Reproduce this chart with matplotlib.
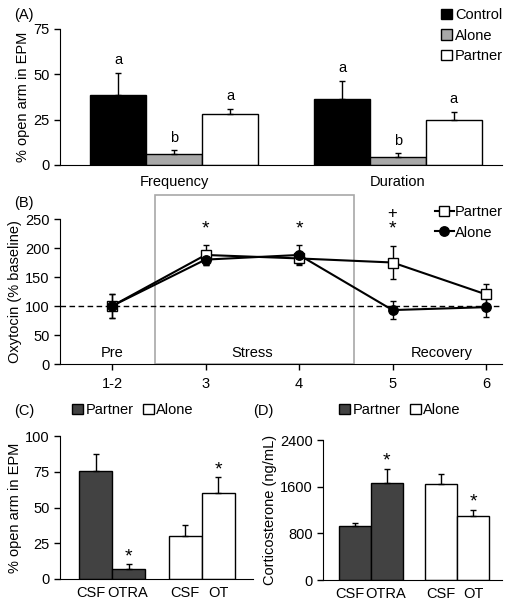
import matplotlib.pyplot as plt
from matplotlib.patches import Patch, Rectangle
from matplotlib.lines import Line2D

plt.rcParams['font.family'] = ['Liberation Sans', 'DejaVu Sans']
plt.rcParams['font.size'] = 10.5

# ---- data ----
# (A) % open arm in EPM
a_groups = ['Frequency', 'Duration']
a_series = ['Control', 'Alone', 'Partner']
a_values = {'Control': [38.5, 36.5], 'Alone': [6, 4.5], 'Partner': [28, 25]}
a_errors = {'Control': [12.5, 10], 'Alone': [2, 2], 'Partner': [3, 4.5]}
a_letters = {'Control': ['a', 'a'], 'Alone': ['b', 'b'], 'Partner': ['a', 'a']}

# (B) oxytocin time course
b_ticks = ['1-2', '3', '4', '5', '6']
b_partner = [100, 188, 182, 175, 120]
b_partner_err = [20, 18, 10, 28, 18]
b_alone = [100, 180, 188, 93, 98]
b_alone_err = [20, 10, 17, 15, 17]

# (C) % open arm, (D) corticosterone
cd_labels = ['CSF', 'OTRA', 'CSF', 'OT']
c_values = [75.5, 7.2, 30, 60]
c_errors = [12, 3, 8, 11.5]
d_values = [920, 1655, 1650, 1100]
d_errors = [55, 250, 160, 105]
cd_sig = [False, True, False, True]

col_control = '#000000'
col_alone_a = '#a8a8a8'
col_dark = '#424242'

fig = plt.figure(figsize=(5.12, 6.06), dpi=100)
W, H = 512, 606


def add_ax(l, t, r, b):
    ax = fig.add_axes([l / W, 1 - b / H, (r - l) / W, (b - t) / H])
    ax.spines['top'].set_visible(False)
    ax.spines['right'].set_visible(False)
    ax.tick_params(direction='out', length=4, width=1)
    return ax


# ---- (A) ----
axA = add_ax(60, 29, 502, 165)
a_colors = {'Control': col_control, 'Alone': col_alone_a, 'Partner': 'white'}
centers = [0, 4]
for i, s in enumerate(a_series):
    xs = [c + i - 1 for c in centers]
    axA.bar(xs, a_values[s], width=1, color=a_colors[s], edgecolor='black', linewidth=1)
    axA.errorbar(xs, a_values[s], yerr=[[0, 0], a_errors[s]], fmt='none',
                 ecolor='black', elinewidth=1, capsize=2.5, capthick=1)
    for x, v, e, t in zip(xs, a_values[s], a_errors[s], a_letters[s]):
        axA.text(x, v + e + 7, t, ha='center', va='center')
axA.set_xlim(-2.04, 5.86)
axA.set_ylim(0, 75)
axA.set_yticks([0, 25, 50, 75])
axA.set_xticks(centers)
axA.set_xticklabels(a_groups)
axA.tick_params(axis='x', length=0, pad=7)
axA.set_ylabel('% open arm in EPM', labelpad=2)
fig.legend(handles=[Patch(facecolor=a_colors[s], edgecolor='black', label=s) for s in a_series],
           loc='upper right', bbox_to_anchor=(503 / W, 1 - 8 / H), frameon=False,
           handlelength=0.75, handleheight=0.75, handletextpad=0.2, labelspacing=0.45,
           borderaxespad=0, borderpad=0)
fig.text(14 / W, 1 - 15 / H, '(A)', ha='left', va='center')

# ---- (B) ----
axB = add_ax(60, 219, 502, 364)
xb = list(range(len(b_ticks)))
axB.add_patch(Rectangle((0.46, 0), 2.13, 292, fill=False, edgecolor='#a8a8a8',
                        linewidth=1.2, clip_on=False, zorder=0))
axB.axhline(100, color='black', linestyle=(0, (4, 2.5)), linewidth=1, zorder=1)
axB.errorbar(xb, b_partner, yerr=b_partner_err, fmt='none', ecolor='black',
             elinewidth=1, capsize=2.5, capthick=1, zorder=2)
axB.errorbar(xb, b_alone, yerr=b_alone_err, fmt='none', ecolor='black',
             elinewidth=1, capsize=2.5, capthick=1, zorder=2)
axB.plot(xb, b_partner, color='black', linewidth=1.5, marker='s', markersize=6.8,
         markerfacecolor='white', markeredgecolor='black', markeredgewidth=1, zorder=3)
axB.plot(xb, b_alone, color='black', linewidth=1.5, marker='o', markersize=6.8,
         markerfacecolor='black', zorder=4)
for x in [1, 2, 3]:
    axB.text(x, 232, '*', ha='center', va='center', fontsize=14)
axB.text(3, 259, '+', ha='center', va='center', fontsize=12)
axB.text(0, 19, 'Pre', ha='center', va='center')
axB.text(1.5, 19, 'Stress', ha='center', va='center')
axB.text(3.53, 19, 'Recovery', ha='center', va='center')
axB.set_xlim(-0.556, 4.17)
axB.set_ylim(0, 250)
axB.set_yticks(range(0, 251, 50))
axB.set_xticks(xb)
axB.set_xticklabels(b_ticks)
axB.tick_params(axis='x', pad=5)
axB.set_ylabel('Oxytocin (% baseline)', labelpad=2)
b_handles = [Line2D([], [], color='black', linewidth=1.5, marker='s', markersize=6.8,
                    markerfacecolor='white', markeredgewidth=1, label='Partner'),
             Line2D([], [], color='black', linewidth=1.5, marker='o', markersize=6.8,
                    markerfacecolor='black', label='Alone')]
fig.legend(handles=b_handles, loc='upper right', bbox_to_anchor=(503 / W, 1 - 205 / H),
           frameon=False, handlelength=1.3, handletextpad=0.1, labelspacing=0.45,
           borderaxespad=0, borderpad=0)
fig.text(14 / W, 1 - 203 / H, '(B)', ha='left', va='center')

# ---- (C) and (D) ----
xcd = [0, 1, 2.7, 3.7]
cd_tickpos = [-0.15, 0.95, 2.7, 3.7]
cd_colors = [col_dark, col_dark, 'white', 'white']


def cd_panel(ax, vals, errs, star_off):
    ax.bar(xcd, vals, width=1, color=cd_colors, edgecolor='black', linewidth=1)
    ax.errorbar(xcd, vals, yerr=[[0] * 4, errs], fmt='none', ecolor='black',
                elinewidth=1, capsize=2.5, capthick=1)
    for x, v, e, s in zip(xcd, vals, errs, cd_sig):
        if s:
            ax.text(x, v + e + star_off, '*', ha='center', va='center', fontsize=14)
    ax.set_xticks(cd_tickpos)
    ax.set_xticklabels(cd_labels)
    ax.tick_params(axis='x', length=0, pad=5)


cd_handles = [Patch(facecolor=col_dark, edgecolor='black', label='Partner'),
              Patch(facecolor='white', edgecolor='black', label='Alone')]

axC = add_ax(60, 436, 253, 579)
cd_panel(axC, c_values, c_errors, 5)
axC.set_xlim(-1.09, 4.76)
axC.set_ylim(0, 100)
axC.set_yticks([0, 25, 50, 75, 100])
axC.set_ylabel('% open arm in EPM', labelpad=2)
fig.legend(handles=cd_handles, loc='upper left', bbox_to_anchor=(72 / W, 1 - 403 / H),
           ncol=2, frameon=False, handlelength=0.75, handleheight=0.75,
           handletextpad=0.2, columnspacing=0.6, borderaxespad=0, borderpad=0)
fig.text(14 / W, 1 - 411 / H, '(C)', ha='left', va='center')

axD = add_ax(323, 440, 502, 580)
cd_panel(axD, d_values, d_errors, 130)
axD.set_xlim(-1.0, 4.6)
axD.set_ylim(0, 2400)
axD.set_yticks([0, 800, 1600, 2400])
axD.set_ylabel('Corticosterone (ng/mL)', labelpad=2)
fig.legend(handles=cd_handles, loc='upper left', bbox_to_anchor=(339 / W, 1 - 403 / H),
           ncol=2, frameon=False, handlelength=0.75, handleheight=0.75,
           handletextpad=0.2, columnspacing=0.6, borderaxespad=0, borderpad=0)
fig.text(253 / W, 1 - 411 / H, '(D)', ha='left', va='center')

fig.savefig('out.png', dpi=100)
